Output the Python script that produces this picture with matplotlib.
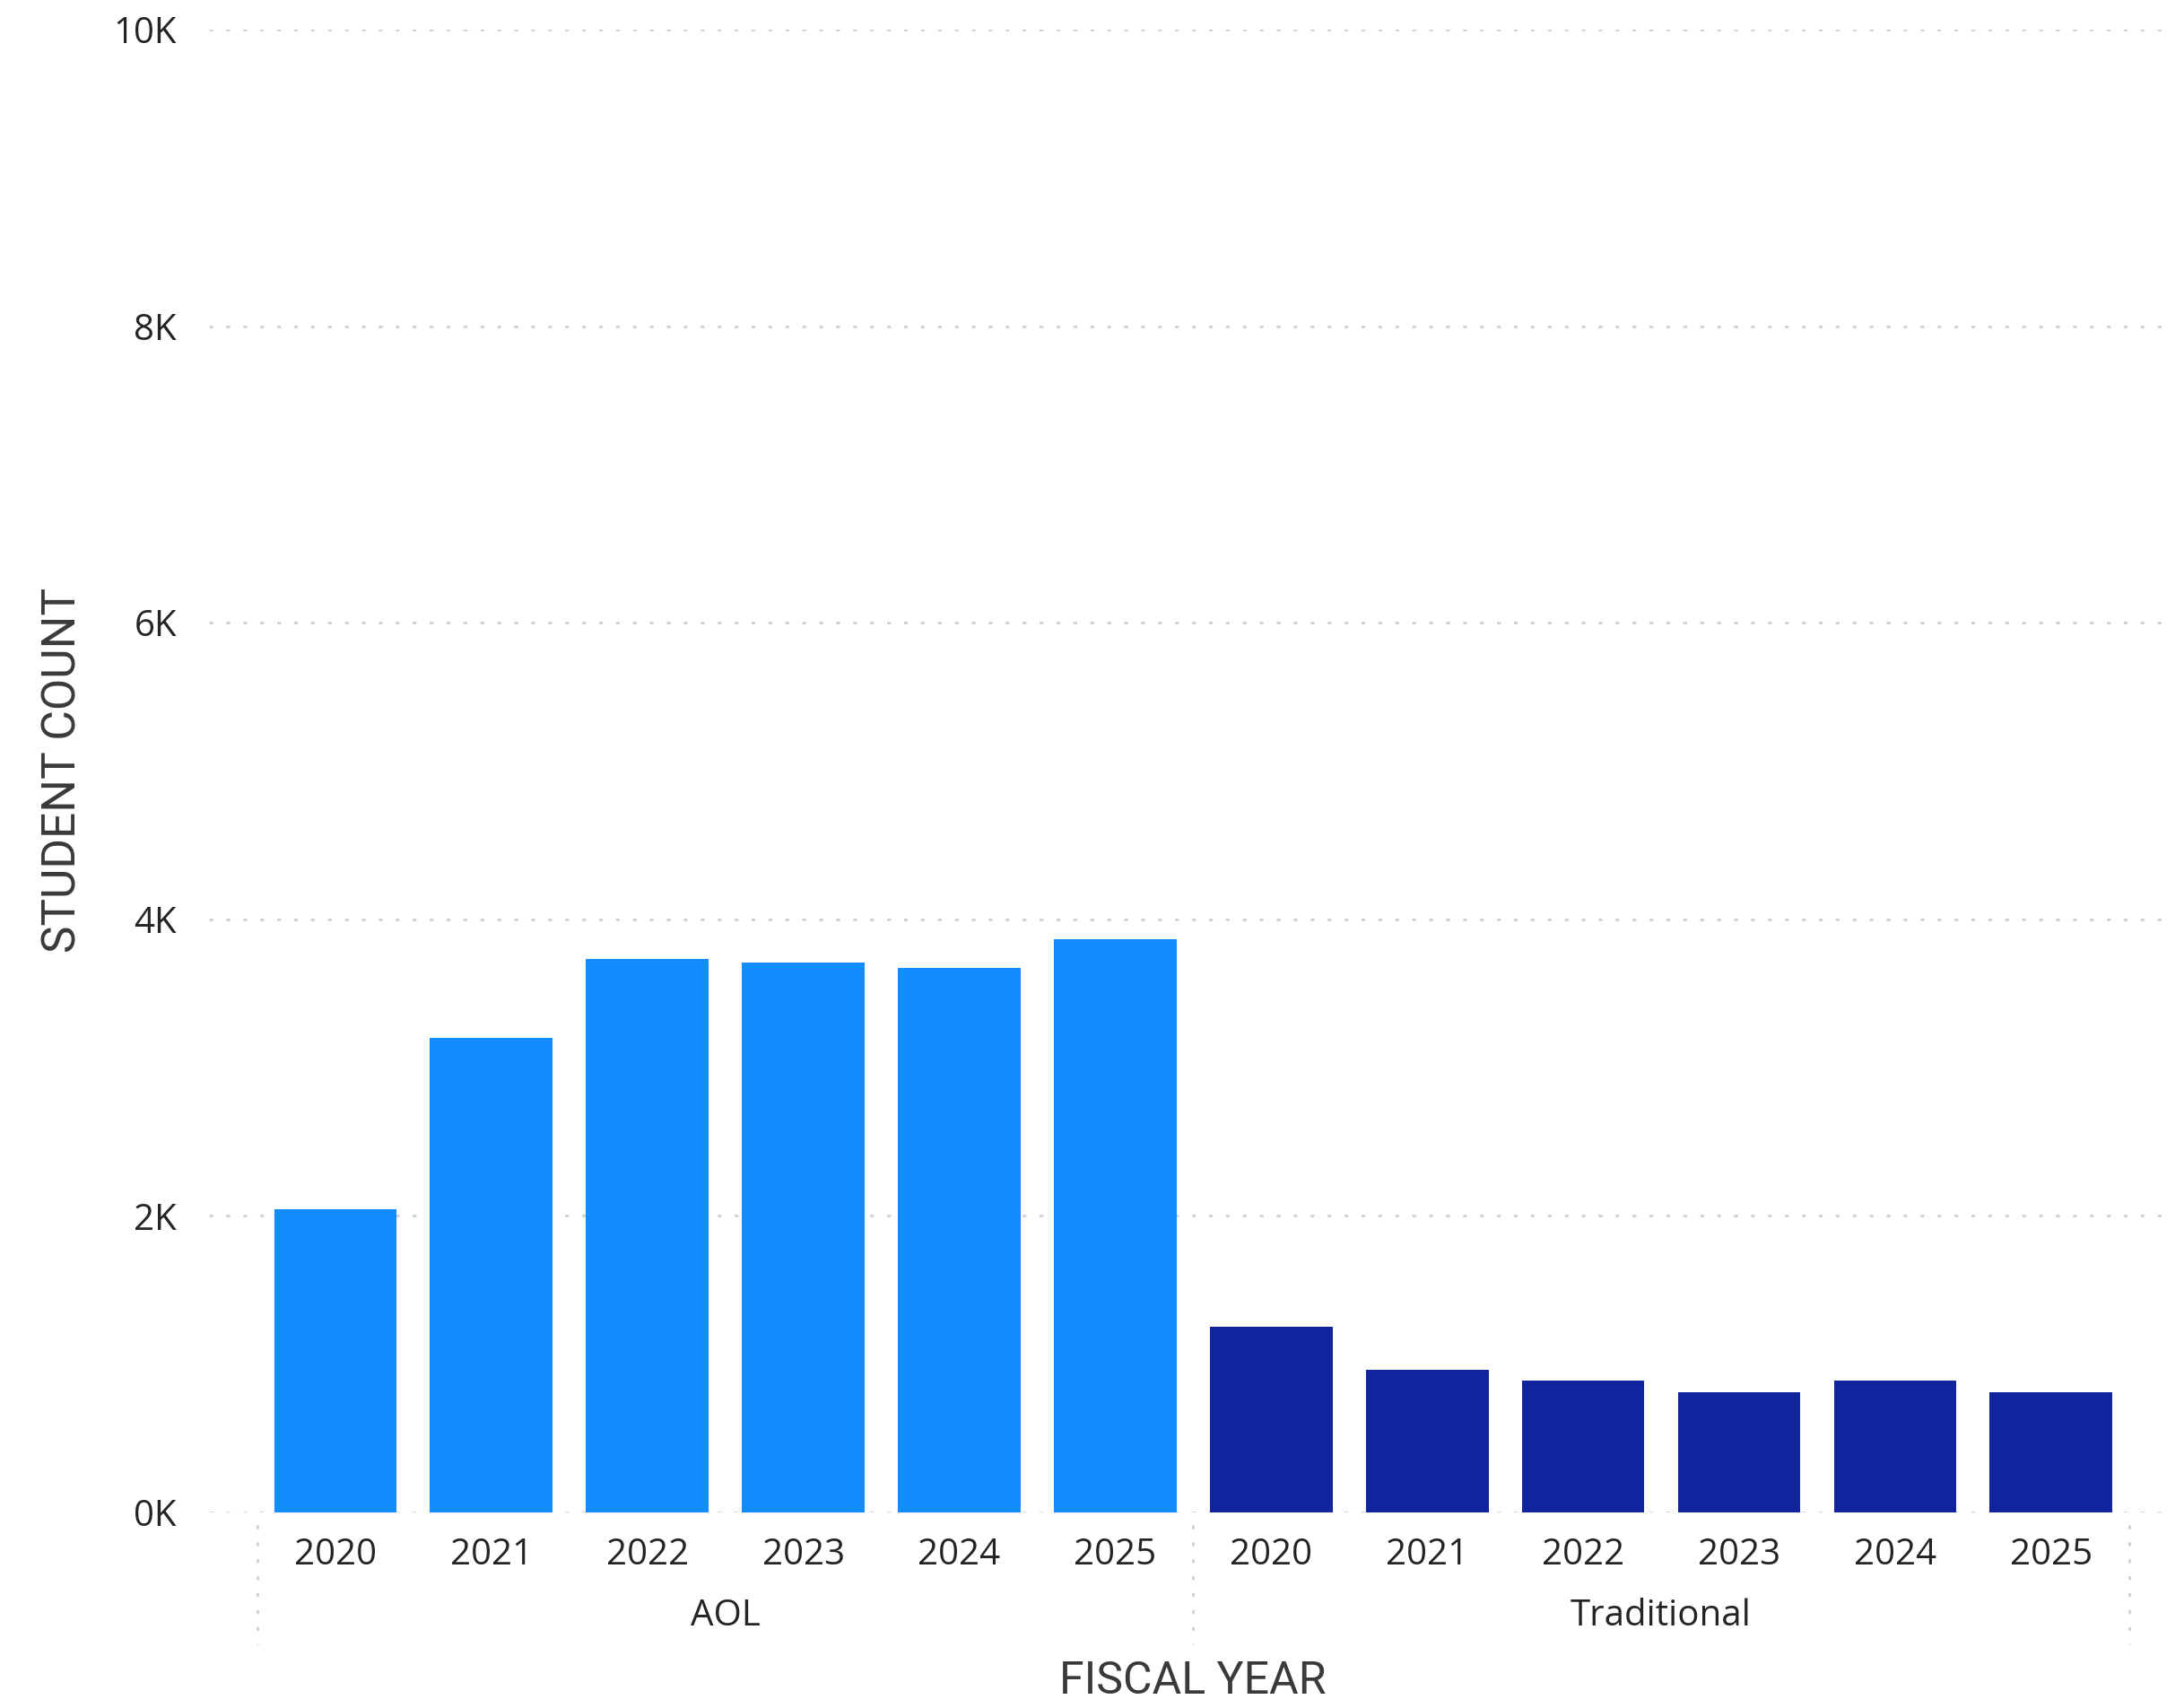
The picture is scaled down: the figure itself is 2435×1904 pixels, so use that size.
import numpy as np
import matplotlib.pyplot as plt
from matplotlib.transforms import blended_transform_factory

# student counts per fiscal year, split by program type
years = ['2020', '2021', '2022', '2023', '2024', '2025']
groups = ['AOL', 'Traditional']
aol_counts = [2045, 3200, 3730, 3710, 3670, 3865]
traditional_counts = [1255, 960, 890, 810, 890, 808]
group_colors = ['#118DFF', '#12239E']
y_ticks = [0, 2000, 4000, 6000, 8000, 10000]

plt.rcParams['font.family'] = ['Open Sans', 'DejaVu Sans']

fig = plt.figure(figsize=(24.35, 19.04), dpi=100)
ax = fig.add_axes([0.0957, 0.1145, 0.897, 0.8682])

n = len(years)
x = np.arange(2 * n)
values = aol_counts + traditional_counts
colors = [group_colors[0]] * n + [group_colors[1]] * n

ax.bar(x, values, width=0.786, color=colors, zorder=3)

ax.set_xlim(-0.81, 2 * n - 0.25)
ax.set_ylim(0, 10000)

# dotted horizontal gridlines
dots = (0, (1.5, 5.3))
for v in y_ticks:
    ax.axhline(v, color='#cfcfcf', lw=2, ls=dots, zorder=1)

for s in ax.spines.values():
    s.set_visible(False)

ax.set_yticks(y_ticks)
ax.set_yticklabels([f'{v // 1000}K' for v in y_ticks])
ax.set_xticks(x)
ax.set_xticklabels(years * 2)
ax.tick_params(axis='y', length=0, pad=26, labelsize=29, labelcolor='#252423')
ax.tick_params(axis='x', length=0, pad=20, labelsize=29, labelcolor='#252423')

trans = blended_transform_factory(ax.transData, ax.transAxes)

# group labels under the year labels
for i, g in enumerate(groups):
    ax.text(i * n + (n - 1) / 2, -0.07, g, transform=trans, ha='center',
            va='center', fontsize=29, color='#252423')

# dotted separators between groups
for xs in [-0.5, n - 0.5, 2 * n - 0.5]:
    ax.plot([xs, xs], [-0.0085, -0.089], transform=trans, color='#cfcfcf',
            lw=2, ls=dots, clip_on=False)

fig.text(1330 / 2435, 1 - 1874 / 1904, 'FISCAL YEAR', ha='center', va='center',
         fontsize=36, color='#3a3a3a', family=['Roboto', 'DejaVu Sans'])
fig.text(71 / 2435, 1 - 859 / 1904, 'STUDENT COUNT', ha='center', va='center',
         rotation=90, fontsize=37, color='#3a3a3a', family=['Roboto', 'DejaVu Sans'])

fig.savefig('out.png', dpi=100, facecolor='white')
